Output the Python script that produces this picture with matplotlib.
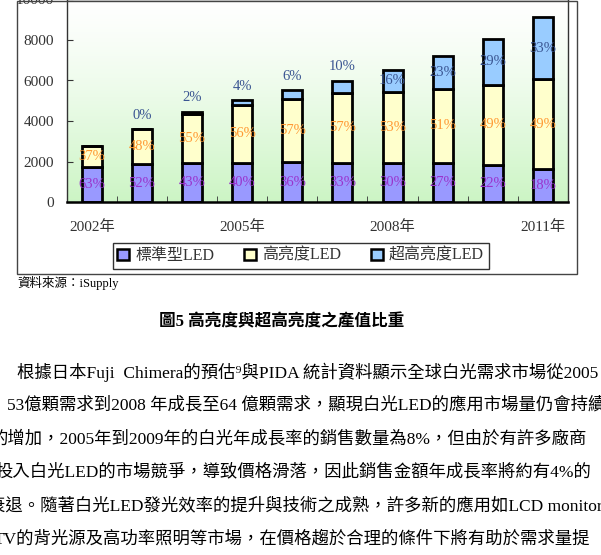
import numpy as np
import matplotlib.pyplot as plt
from matplotlib.patches import Patch, Rectangle

years = ['2002年', '2003年', '2004年', '2005年', '2006年', '2007年', '2008年', '2009年', '2010年', '2011年']
standard = [1750, 1870, 1920, 1950, 1985, 1950, 1940, 1940, 1850, 1640]
high = [1030, 1730, 2450, 2830, 3120, 3430, 3510, 3640, 3930, 4430]
super_high = [0, 0, 90, 260, 430, 610, 1080, 1610, 2270, 3060]
std_pct = [63, 52, 43, 40, 36, 33, 30, 27, 22, 18]
high_pct = [37, 48, 55, 56, 57, 57, 53, 51, 49, 49]
super_pct = [None, 0, 2, 4, 6, 10, 16, 23, 29, 33]
series_names = ['標準型LED', '高亮度LED', '超高亮度LED']

source_note = '資料來源：iSupply'
caption = '圖5 高亮度與超高亮度之產值比重'
body_lines = [
    '根據日本Fuji  Chimera的預估⁹與PIDA 統計資料顯示全球白光需求市場從2005',
    '53億顆需求到2008 年成長至64 億顆需求，顯現白光LED的應用市場量仍會持續',
    '的增加，2005年到2009年的白光年成長率的銷售數量為8%，但由於有許多廠商',
    '投入白光LED的市場競爭，導致價格滑落，因此銷售金額年成長率將約有4%的',
    '衰退。隨著白光LED發光效率的提升與技術之成熟，許多新的應用如LCD monitor',
    'TV的背光源及高功率照明等市場，在價格趨於合理的條件下將有助於需求量提',
]

fam = ['Liberation Serif', 'Noto Sans CJK TC']
plt.rcParams['font.family'] = fam

W, H = 601, 555
fig = plt.figure(figsize=(W / 100, H / 100), dpi=100)

def fx(px):
    return px / W

def fy(py):
    return 1 - py / H

ax = fig.add_axes([fx(66.7), fy(202.3), fx(568) - fx(66.7), fy(-0.7) - fy(202.3)])

# background gradient white -> light green
grad = np.linspace(0, 1, 256).reshape(-1, 1)
top_c = np.array([1.0, 1.0, 1.0])
bot_c = np.array([0.80, 0.96, 0.77])
img = top_c + (bot_c - top_c) * grad[:, :, None] ** 1.3
ax.imshow(img, extent=[0, 1, 0, 1], transform=ax.transAxes, aspect='auto', zorder=0)

x = np.arange(len(years))
w = 0.40
c_std, c_high, c_sup = '#9999ff', '#ffffcc', '#99ccff'
std = np.array(standard)
hi = np.array(high)
sup = np.array(super_high)
ax.bar(x, std, w, color=c_std, edgecolor='black', linewidth=2.0, zorder=2)
ax.bar(x, hi, w, bottom=std, color=c_high, edgecolor='black', linewidth=2.0, zorder=2)
ax.bar(x, sup, w, bottom=std + hi, color=c_sup, edgecolor='black', linewidth=2.0, zorder=2)

lab_kw = dict(ha='center', va='center', fontsize=10.5, zorder=3)
for i in x:
    ax.text(i, std[i] / 2, f'{std_pct[i]}%', color='#9933cc', **lab_kw)
    ax.text(i, std[i] + hi[i] / 2, f'{high_pct[i]}%', color='#ff9933', **lab_kw)
    if super_pct[i] is None:
        continue
    top = std[i] + hi[i] + sup[i]
    if i <= 5:
        ax.annotate(f'{super_pct[i]}%', (i, top), xytext=(0, 10), textcoords='offset points',
                    color='#3a5592', **lab_kw)
    else:
        ax.text(i, std[i] + hi[i] + sup[i] / 2, f'{super_pct[i]}%', color='#3a5592', **lab_kw)

ax.set_xlim(-0.5, 9.5)
ax.set_ylim(0, 10000)
ax.set_yticks(np.arange(0, 10001, 2000))
ax.set_xticks(x[::3])
ax.set_xticklabels([years[i] for i in x[::3]])
ax.set_xticks(np.arange(0.5, 9.5, 1), minor=True)
ax.tick_params(axis='x', which='major', length=0, pad=13, labelsize=11, labelcolor='#333333')
ax.tick_params(axis='x', which='minor', direction='in', length=4, color='#333333')
ax.tick_params(axis='y', direction='in', length=4, pad=9, labelsize=11, labelcolor='#333333', color='#333333')
for s in ax.spines.values():
    s.set_color('#333333')
    s.set_linewidth(1.0)
ax.spines['bottom'].set_linewidth(1.8)
ax.spines['bottom'].set_color('black')

# outer chart box
fig.patches.append(Rectangle((fx(16.7), fy(273.5)), fx(577) - fx(16.7), fy(0.5) - fy(273.5),
                             transform=fig.transFigure, fill=False, edgecolor='#444444', linewidth=1.0))

handles = [Patch(facecolor=c, edgecolor='black', linewidth=1.8) for c in (c_std, c_high, c_sup)]
leg = fig.legend(handles, series_names, loc='center', bbox_to_anchor=(fx(300.7), fy(255.8)),
                 ncol=3, fontsize=11.5, frameon=True, fancybox=False, framealpha=1,
                 edgecolor='#333333', handlelength=0.7, handleheight=0.7, handletextpad=0.4,
                 columnspacing=1.9, borderpad=0.3)
leg.get_frame().set_linewidth(1.0)
for t in leg.get_texts():
    t.set_color('#333333')

fig.text(fx(17), fy(283), source_note, fontsize=9, va='center', ha='left')
fig.text(fx(282), fy(322), caption, fontsize=12, fontweight='bold', va='center', ha='center')

starts = [17, 7, -9, -5, -12, -6]
line_y = [372, 405, 439, 472, 506, 539]
for s, yy, line in zip(starts, line_y, body_lines):
    fig.text(fx(s), fy(yy), line, fontsize=12.5, va='center', ha='left')

fig.savefig('out.png', dpi=100)
